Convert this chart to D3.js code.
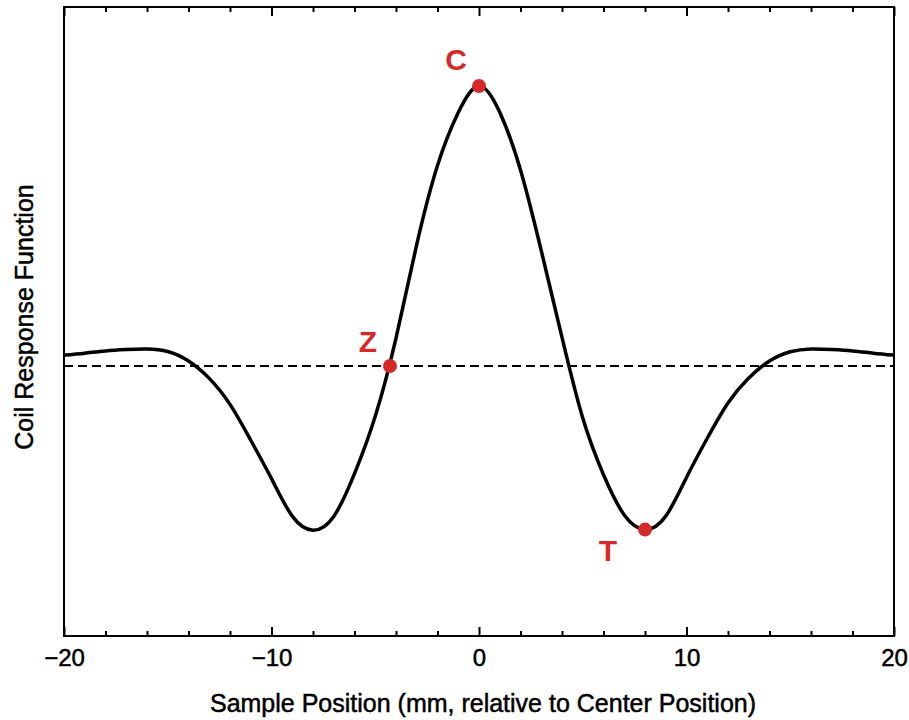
<!DOCTYPE html>
<html>
<head>
<meta charset="utf-8">
<script src="https://cdn.jsdelivr.net/npm/d3@7"></script>
<style>
  body { margin: 0; background: #fff; }
  text { font-family: "Liberation Sans", Arial, Helvetica, sans-serif; }
</style>
</head>
<body>
<svg width="909" height="720"></svg>
<script>
// sample position (mm) and coil response
const positions = [-20, -19, -18, -17, -16, -15, -14, -13, -12, -11, -10, -9, -8, -7, -6, -5, -4, -3, -2, -1,
    0, 1, 2, 3, 4, 5, 6, 7, 8, 9, 10, 11, 12, 13, 14, 15, 16, 17, 18, 19, 20];
const response = [0.039, 0.046, 0.054, 0.059, 0.061, 0.052, 0.018, -0.044, -0.137, -0.265, -0.402, -0.536, -0.586, -0.537, -0.384, -0.179, 0.100, 0.434, 0.716, 0.905,
    1.0, 0.906, 0.700, 0.412, 0.102, -0.186, -0.388, -0.532, -0.584, -0.536, -0.398, -0.258, -0.132, -0.043, 0.018, 0.051, 0.061, 0.059, 0.054, 0.046, 0.039];

const pointNames = ["C", "Z", "T"];
const pointX = [0, -4.29, 8];
const pointY = [1.0, 0, -0.584];

const xTicks = [-20, -10, 0, 10, 20];

const svg = d3.select("svg"),
    margin = {top: 7, right: 15, bottom: 84, left: 64},
    width = +svg.attr("width") - margin.left - margin.right,
    height = +svg.attr("height") - margin.top - margin.bottom,
    g = svg.append("g").attr("transform", "translate(" + margin.left + "," + margin.top + ")");

const red = "#d62a2a";

let x = d3.scaleLinear().domain([-20, 20]).range([0, width]);
let y = d3.scaleLinear().domain([-0.964, 1.282]).range([height, 0]);

const fmt = function (d) { return d < 0 ? "\u2212" + Math.abs(d) : String(d); };
const minorTicks = d3.range(-18, 20, 2).filter(function (d) { return d % 10 !== 0; });

// bottom axis, ticks pointing in
let bottomAxis = g.append("g")
    .attr("transform", "translate(0," + height + ")")
    .call(d3.axisBottom(x).tickValues(xTicks).tickSize(-9).tickPadding(13).tickFormat(fmt));
bottomAxis.append("g")
    .call(d3.axisBottom(x).tickValues(minorTicks).tickSize(-5).tickFormat(""));

// top axis
let topAxis = g.append("g")
    .call(d3.axisTop(x).tickValues(xTicks).tickSize(-9).tickFormat(""));
topAxis.append("g")
    .call(d3.axisTop(x).tickValues(minorTicks).tickSize(-5).tickFormat(""));

svg.selectAll(".domain").remove();
svg.selectAll(".tick line").attr("stroke", "#000").attr("stroke-width", 2);
bottomAxis.selectAll(".tick text")
    .attr("font-size", 24)
    .attr("fill", "#000")
    .attr("stroke", "#000")
    .attr("stroke-width", 0.5);

// frame
g.append("rect")
    .attr("width", width)
    .attr("height", height)
    .attr("fill", "none")
    .attr("stroke", "#000")
    .attr("stroke-width", 2);

// zero line
g.append("line")
    .attr("x1", 0).attr("x2", width)
    .attr("y1", y(0)).attr("y2", y(0))
    .attr("stroke", "#000")
    .attr("stroke-width", 2)
    .attr("stroke-dasharray", "9,5");

let line = d3.line()
    .x(function (d, i) { return x(positions[i]); })
    .y(function (d) { return y(d); })
    .curve(d3.curveNatural);

g.append("path")
    .datum(response)
    .attr("d", line)
    .attr("fill", "none")
    .attr("stroke", "#000")
    .attr("stroke-width", 3.5);

// marked points
const labelDx = [-23, -22, -37];
const labelDy = [-16, -14, 31];

let pts = g.selectAll(".pt")
    .data(pointNames)
    .enter().append("g")
    .attr("class", "pt");

pts.append("circle")
    .attr("cx", function (d, i) { return x(pointX[i]); })
    .attr("cy", function (d, i) { return y(pointY[i]); })
    .attr("r", 7)
    .attr("fill", red);

pts.append("text")
    .attr("x", function (d, i) { return x(pointX[i]) + labelDx[i]; })
    .attr("y", function (d, i) { return y(pointY[i]) + labelDy[i]; })
    .attr("text-anchor", "middle")
    .attr("font-size", 30)
    .attr("font-weight", "bold")
    .attr("fill", red)
    .text(function (d) { return d; });

// axis titles
svg.append("text")
    .attr("x", 483)
    .attr("y", 712)
    .attr("text-anchor", "middle")
    .attr("font-size", 25)
    .attr("stroke", "#000")
    .attr("stroke-width", 0.5)
    .text("Sample Position (mm, relative to Center Position)");

svg.append("text")
    .attr("transform", "translate(33,317) rotate(-90)")
    .attr("text-anchor", "middle")
    .attr("font-size", 25)
    .attr("stroke", "#000")
    .attr("stroke-width", 0.5)
    .text("Coil Response Function");
</script>
</body>
</html>
